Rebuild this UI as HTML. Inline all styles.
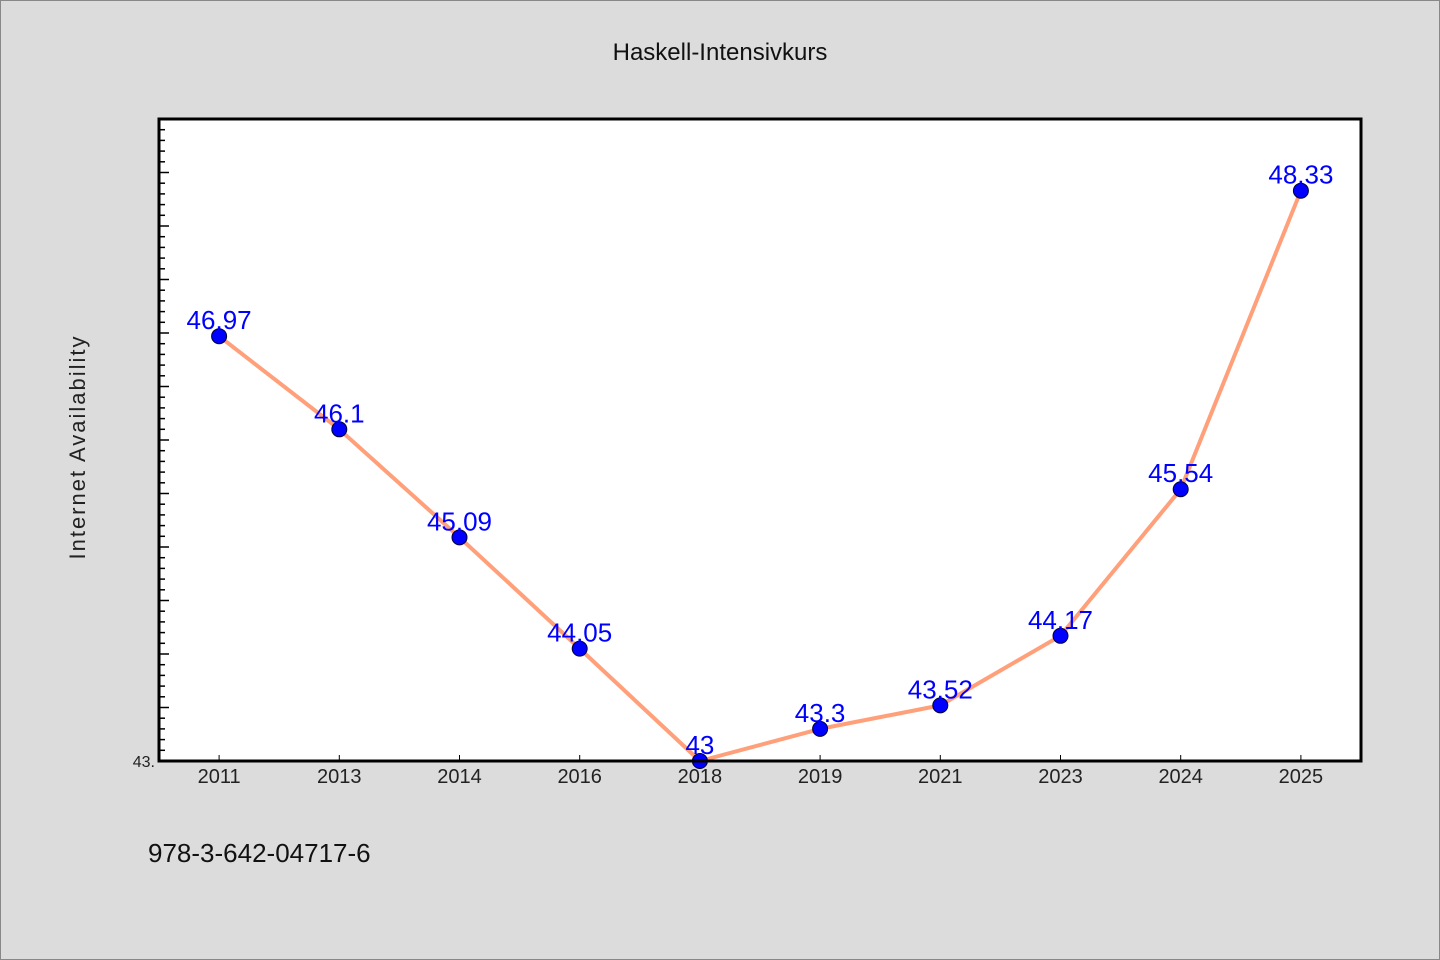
<!DOCTYPE html>
<html><head><meta charset="utf-8"><style>
body{margin:0;background:#dcdcdc;}
svg{display:block;font-family:"WenQuanYi Zen Hei","Liberation Sans",sans-serif;}
</style></head><body>
<svg id="c" width="1440" height="960">
<rect x="0.5" y="0.5" width="1439" height="959" fill="#dcdcdc" stroke="#888"/>
<text x="720" y="60" font-size="24" text-anchor="middle" fill="#111">Haskell-Intensivkurs</text>
<rect x="159" y="119" width="1202" height="642" fill="#fff"/>
<g id="ticks"></g>
<text transform="translate(85,447) rotate(-90)" font-size="22" text-anchor="middle" fill="#222" letter-spacing="2">Internet Availability</text>
<text x="155" y="767" font-size="16" text-anchor="end" fill="#222">43.</text>
<g id="xl"></g>
<polyline id="line" fill="none" stroke="#ffa07a" stroke-width="4" stroke-linejoin="round"/>
<g id="pts"></g>
<rect x="159" y="119" width="1202" height="642" fill="none" stroke="#000" stroke-width="3"/>
<text x="148" y="862" font-size="26" fill="#111">978-3-642-04717-6</text>
</svg>
<script>
const categories=["2011","2013","2014","2016","2018","2019","2021","2023","2024","2025"];
const values=[46.97,46.1,45.09,44.05,43,43.3,43.52,44.17,45.54,48.33];
const labels=["46.97","46.1","45.09","44.05","43","43.3","43.52","44.17","45.54","48.33"];
const yMin=43,yMax=49;
const L=159,T=119,W=1202,H=642;
const ns="http://www.w3.org/2000/svg";
const x=i=>L+W/categories.length*(i+0.5);
const y=v=>T+H-(v-yMin)/(yMax-yMin)*H;
const tk=document.getElementById('ticks');
for(let k=0;k<=60;k++){const v=yMin+k*0.1;const yy=y(v);if(yy<T)break;
const l=document.createElementNS(ns,'line');l.setAttribute('x1',L);l.setAttribute('x2',L+(k%5==0?10:6));l.setAttribute('y1',yy);l.setAttribute('y2',yy);l.setAttribute('stroke','#000');l.setAttribute('stroke-width','1.5');


tk.appendChild(l);}
const xl=document.getElementById('xl');
categories.forEach((c,i)=>{const t=document.createElementNS(ns,'text');t.setAttribute('x',x(i));t.setAttribute('y',783);t.setAttribute('font-size','20');t.setAttribute('text-anchor','middle');t.setAttribute('fill','#222');t.textContent=c;


xl.appendChild(t);
const m=document.createElementNS(ns,'line');m.setAttribute('x1',x(i));m.setAttribute('x2',x(i));m.setAttribute('y1',761);m.setAttribute('y2',755);m.setAttribute('stroke','#000');


xl.appendChild(m);});
document.getElementById('line').setAttribute('points',values.map((v,i)=>x(i)+','+y(v)).join(' '));
const pts=document.getElementById('pts');
values.forEach((v,i)=>{const c=document.createElementNS(ns,'circle');c.setAttribute('cx',x(i));c.setAttribute('cy',y(v));c.setAttribute('r',7.5);c.setAttribute('fill','#0000ff');c.setAttribute('stroke','#000033');c.setAttribute('stroke-width','1');


pts.appendChild(c);
const t=document.createElementNS(ns,'text');t.setAttribute('x',x(i));t.setAttribute('y',y(v)-7);t.setAttribute('font-size','26');t.setAttribute('text-anchor','middle');t.setAttribute('fill','#0000ff');t.textContent=labels[i];


pts.appendChild(t);});
</script>
</body></html>
